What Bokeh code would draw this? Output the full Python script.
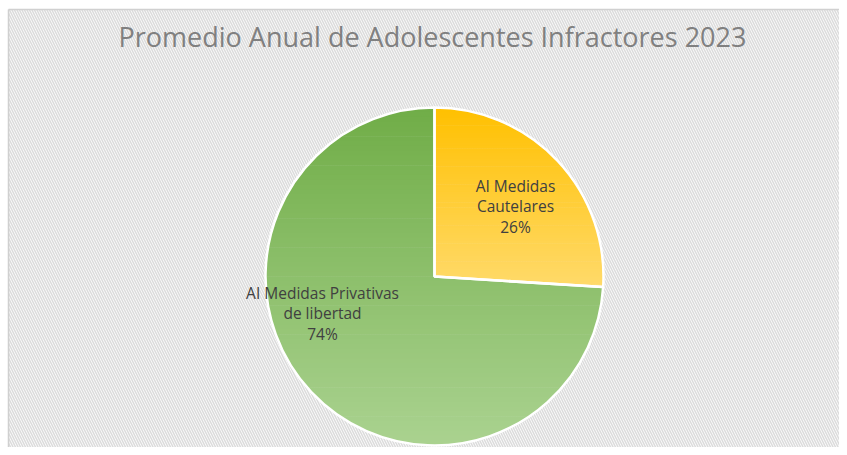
from math import pi, cos, sin
from bokeh.plotting import figure
from bokeh.models import ColumnDataSource, Range1d
from bokeh.core.properties import value
from bokeh.embed import file_html
from bokeh.resources import INLINE

# Data
categories = ["AI Medidas\nCautelares", "AI Medidas Privativas\nde libertad"]
shares = [26, 74]
# gradient colours (top, bottom) for each slice
colors_top = ["#FFC000", "#70AD47"]
colors_bottom = ["#FFDA6A", "#AAD290"]
title_text = "Promedio Anual de Adolescentes Infractores 2023"

W, H = 839, 447
p = figure(width=W, height=H, output_backend="svg", toolbar_location=None,
           x_range=Range1d(0, W), y_range=Range1d(0, H), min_border=0,
           outline_line_color=None)
p.axis.visible = False
p.grid.visible = False
p.background_fill_color = "white"
p.border_fill_color = "white"

# hatched chart background
bx0, by1 = 8, H - 9
p.quad(left=[bx0], right=[W], bottom=[0], top=[by1], fill_color="white",
       hatch_pattern="\\", hatch_color="#DCDCDC", hatch_scale=5, hatch_weight=1.6,
       line_color=None)
p.segment(x0=[bx0, bx0], y0=[0, by1], x1=[bx0, W], y1=[by1, by1],
          line_color="#D0D0D0", line_width=1.5)

cx, cy, r = 434, 171, 169
total = sum(shares)
starts, ends = [], []
a = pi / 2
for s in shares:
    starts.append(a)
    a = a - s / total * 2 * pi
    ends.append(a)


def hex2rgb(h):
    return tuple(int(h[i:i + 2], 16) for i in (1, 3, 5))


def mix(c1, c2, t):
    a1, a2 = hex2rgb(c1), hex2rgb(c2)
    return "#%02x%02x%02x" % tuple(round(u + (v - u) * t) for u, v in zip(a1, a2))


def clip(poly, yv, keep_above):
    out = []
    n = len(poly)
    for i in range(n):
        P, Q = poly[i], poly[(i + 1) % n]
        pin = P[1] >= yv if keep_above else P[1] <= yv
        qin = Q[1] >= yv if keep_above else Q[1] <= yv
        if pin:
            out.append(P)
        if pin != qin:
            t = (yv - P[1]) / (Q[1] - P[1])
            out.append((P[0] + t * (Q[0] - P[0]), yv))
    return out


xs_all, ys_all, fills = [], [], []
for st, en, ct, cb in zip(starts, ends, colors_top, colors_bottom):
    n = 200
    poly = [(cx, cy)] + [(cx + r * cos(st + (en - st) * k / n), cy + r * sin(st + (en - st) * k / n))
                         for k in range(n + 1)]
    ymax = max(q[1] for q in poly)
    ymin = min(q[1] for q in poly)
    bands = 70
    for b in range(bands):
        y_hi = ymax - (ymax - ymin) * b / bands
        y_lo = ymax - (ymax - ymin) * (b + 1) / bands
        part = clip(clip(poly, y_lo - 0.3, True), y_hi + 0.3, False)
        if len(part) < 3:
            continue
        xs_all.append([q[0] for q in part])
        ys_all.append([q[1] for q in part])
        fills.append(mix(ct, cb, (b + 0.5) / bands))

p.patches(xs="xs", ys="ys", fill_color="fill", line_color=None,
          source=ColumnDataSource(dict(xs=xs_all, ys=ys_all, fill=fills)))

# white slice outlines
src = ColumnDataSource(dict(start=starts, end=ends))
p.wedge(x=cx, y=cy, radius=r, radius_units="screen", start_angle="start", end_angle="end",
        direction="clock", fill_color=None, line_color="white", line_width=2.5, source=src)

labels = [f"{c}\n{s}%" for c, s in zip(categories, shares)]
lx = [cx + 81, cx - 112]
ly = [cy + 70, cy - 37]
p.text(x=lx, y=ly, text=labels, text_align="center", text_baseline="middle",
       text_font=value("Open Sans"), text_font_size="15.5px", text_color="#404040",
       text_line_height=0.95)

p.text(x=[432], y=[H - 36], text=[title_text], text_align="center", text_baseline="middle",
       text_font=value("Open Sans"), text_font_size="27px", text_color="#808080")

open("out.html", "w").write(file_html(p, INLINE))
